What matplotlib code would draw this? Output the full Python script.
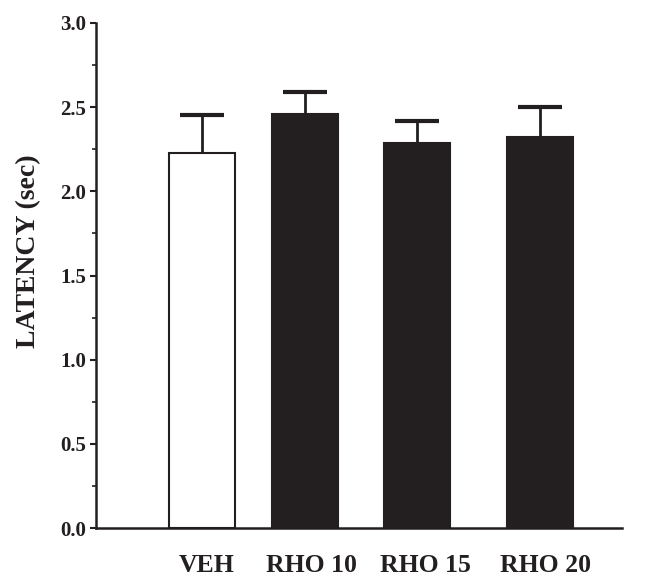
import matplotlib.pyplot as plt
from matplotlib.ticker import MultipleLocator

plt.rcParams['font.family'] = ['Liberation Serif', 'DejaVu Serif']
plt.rcParams['font.weight'] = 'bold'

# Data
groups = ['VEH', 'RHO 10', 'RHO 15', 'RHO 20']
latency = [2.23, 2.46, 2.29, 2.32]
sem = [0.225, 0.13, 0.125, 0.18]
face = ['white', '#231f20', '#231f20', '#231f20']

# Layout (bar centres, slightly uneven as in the original)
xpos = [202, 305, 417, 540]
label_x = [207, 311, 425, 545]
ink = '#231f20'

fig = plt.figure(figsize=(6.5, 5.82), dpi=100)
ax = fig.add_axes([96 / 650, 1 - 528 / 582, (622 - 96) / 650, (528 - 23) / 582])

ax.bar(xpos, latency, width=66, color=face, edgecolor=ink, linewidth=1.5, zorder=2)
eb = ax.errorbar(xpos, latency, yerr=[[0] * len(sem), sem], fmt='none', ecolor=ink,
                 elinewidth=2, capsize=16, capthick=3, zorder=1)
# only the upper cap is shown
eb[1][0].set_visible(False)

ax.set_xlim(96, 622)
ax.set_ylim(0, 3.0)
ax.yaxis.set_major_locator(MultipleLocator(0.5))
ax.yaxis.set_minor_locator(MultipleLocator(0.25))
ax.yaxis.set_major_formatter(plt.FormatStrFormatter('%.1f'))
ax.set_xticks([])
ax.tick_params(axis='y', which='major', length=4, width=1.5, labelsize=15, colors=ink, pad=3)
ax.tick_params(axis='y', which='minor', length=3, width=1.2, colors=ink)

for s in ['top', 'right']:
    ax.spines[s].set_visible(False)
for s in ['left', 'bottom']:
    ax.spines[s].set_linewidth(1.8)
    ax.spines[s].set_color(ink)

for x, g in zip(label_x, groups):
    ax.text(x, -0.22, g, ha='center', va='center', fontsize=18.5, fontweight='bold', color=ink)

ax.set_ylabel('LATENCY (sec)', fontsize=20, fontweight='bold', color=ink)
ax.yaxis.set_label_coords(-0.104, 0.549)

fig.savefig('out.png', dpi=100)
